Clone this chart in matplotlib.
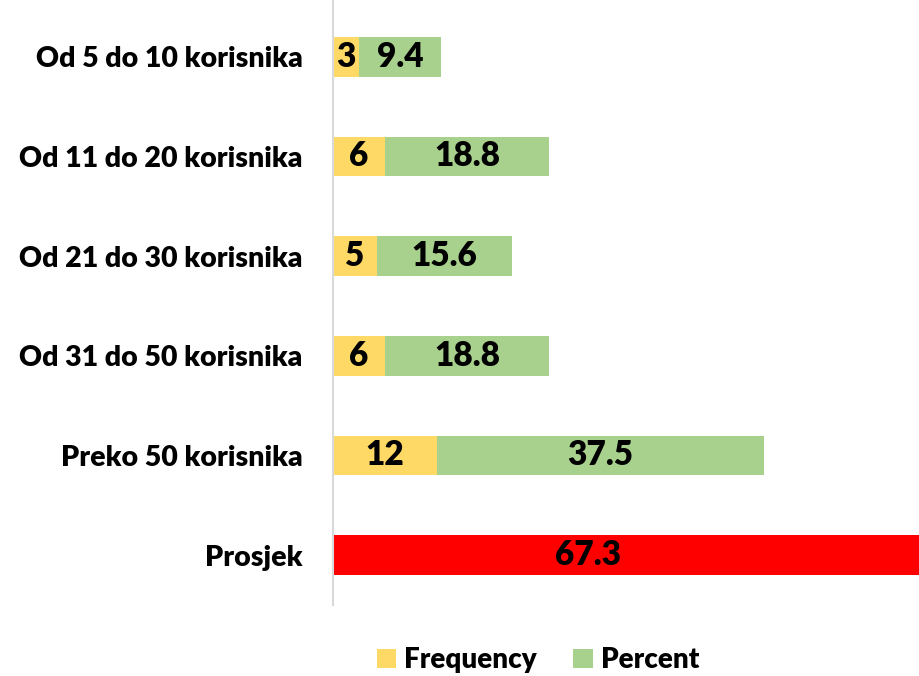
import matplotlib.pyplot as plt

plt.rcParams['font.family'] = ['Lato', 'DejaVu Sans']

# Data
categories = ["Od 5 do 10 korisnika", "Od 11 do 20 korisnika", "Od 21 do 30 korisnika",
              "Od 31 do 50 korisnika", "Preko 50 korisnika", "Prosjek"]
frequency = [3, 6, 5, 6, 12]
percent = [9.4, 18.8, 15.6, 18.8, 37.5]
prosjek = 67.3

yellow = "#FFD966"
green = "#A9D18E"
red = "#FF0000"

fig = plt.figure(figsize=(9.2, 6.76), dpi=100)
ax = fig.add_axes([333 / 920, 1 - 605 / 676, 1 - 333 / 920, 605 / 676])

ypos = list(range(len(frequency)))
h = 0.4
b1 = ax.barh(ypos, frequency, height=h, color=yellow, label="Frequency")
b2 = ax.barh(ypos, percent, left=frequency, height=h, color=green, label="Percent")
b3 = ax.barh([len(frequency)], [prosjek], height=h, color=red)

lab_kw = dict(fontsize=24, fontweight='heavy', color='black')
ax.bar_label(b1, labels=[f"{v:g}" for v in frequency], label_type='center', **lab_kw)
ax.bar_label(b2, labels=[f"{v:g}" for v in percent], label_type='center', **lab_kw)
ax.text(prosjek * 0.435, len(frequency), f"{prosjek:g}", ha='center', va='center', **lab_kw)

ax.set_xlim(0, 587 / 8.7)
ax.set_ylim(5.5, -0.57)
ax.set_yticks(range(len(categories)))
ax.set_yticklabels(categories, fontsize=20.5, fontweight='heavy')
ax.tick_params(axis='y', length=0, pad=22)
ax.set_xticks([])
for s in ['top', 'right', 'bottom']:
    ax.spines[s].set_visible(False)
ax.spines['left'].set_color('#D9D9D9')
ax.spines['left'].set_linewidth(1.5)

fig.legend(handles=[b1, b2], labels=["Frequency", "Percent"], loc='center',
           bbox_to_anchor=(538 / 920, 1 - 660 / 676), ncol=2, frameon=False,
           prop={'size': 20, 'weight': 'heavy'}, handlelength=0.7, handleheight=0.7,
           handletextpad=0.3, columnspacing=1.3)

fig.savefig("out.png", dpi=100)
